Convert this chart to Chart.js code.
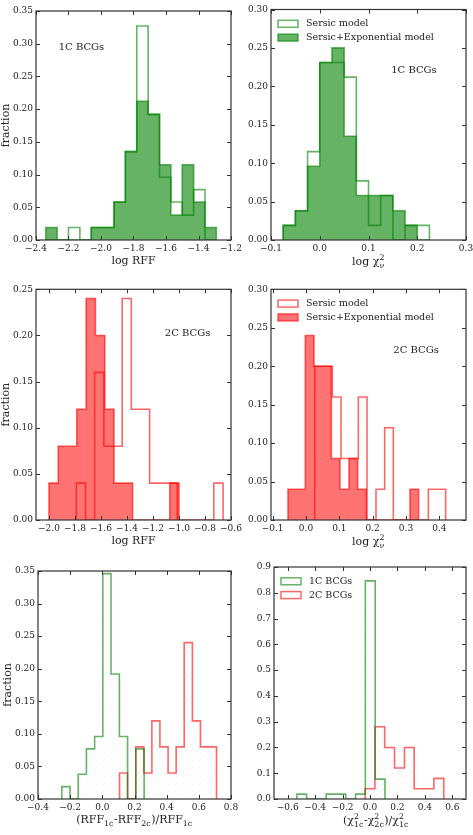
<!DOCTYPE html>
<html><head><meta charset="utf-8">
<script src="https://cdn.jsdelivr.net/npm/chart.js@4.4.1/dist/chart.umd.min.js"></script>
<style>
html,body{margin:0;padding:0;background:#fff;overflow:hidden;}
body{width:473px;height:835px;position:relative;}
canvas{position:absolute;}
</style></head><body>
<canvas id="c1"></canvas><canvas id="c2"></canvas>
<canvas id="c3"></canvas><canvas id="c4"></canvas>
<canvas id="c5"></canvas><canvas id="c6"></canvas>
<script>
// ---------- DATA ----------
// Panel 1: 1C BCGs, log RFF
const p1Edges = [-2.34,-2.27,-2.20,-2.13,-2.06,-1.99,-1.92,-1.85,-1.78,-1.71,-1.64,-1.57,-1.50,-1.43,-1.36,-1.29];
const p1SersicExp = [0.019,0,0,0,0.019,0.019,0.058,0.135,0.212,0.192,0.115,0.038,0.115,0.058,0.019];
const p1Sersic    = [0,0,0.019,0,0.019,0.019,0.058,0.135,0.327,0.192,0.096,0.058,0.038,0.077,0];
// Panel 2: 1C BCGs, log chi2
const p2Edges = [-0.075,-0.05,-0.025,0,0.025,0.05,0.075,0.1,0.125,0.15,0.175,0.2,0.225];
const p2SersicExp = [0.019,0.038,0.096,0.231,0.25,0.135,0.058,0.058,0.058,0.038,0.019,0];
const p2Sersic    = [0.019,0.038,0.115,0.231,0.231,0.212,0.077,0.019,0.058,0,0.019,0.019];
// Panel 3: 2C BCGs, log RFF
const p3EdgesSE = [-2.0,-1.929,-1.857,-1.786,-1.714,-1.643,-1.571,-1.5,-1.429,-1.357,-1.286,-1.214,-1.143,-1.071,-1.0];
const p3SersicExp = [0.04,0.08,0.08,0.12,0.24,0.2,0.12,0.04,0.04,0,0,0,0,0.04];
const p3EdgesS = [-1.79,-1.719,-1.649,-1.578,-1.508,-1.437,-1.367,-1.296,-1.226,-1.155,-1.085,-1.014,-0.944,-0.873,-0.802,-0.732,-0.661];
const p3Sersic = [0.04,0,0.16,0.08,0.08,0.24,0.12,0.12,0.04,0.04,0.04,0,0,0,0,0.04];
// Panel 4: 2C BCGs, log chi2
const p4EdgesSE = [-0.054,-0.028,-0.002,0.024,0.050,0.076,0.102,0.129,0.155,0.181,0.207,0.233,0.259,0.285,0.312,0.338];
const p4SersicExp = [0.04,0.04,0.24,0.2,0.2,0.08,0.04,0.08,0.04,0,0,0,0,0,0.04];
const p4EdgesS = [0.026,0.052,0.079,0.105,0.131,0.157,0.183,0.210,0.236,0.262,0.288,0.314,0.341,0.367,0.393,0.419];
const p4Sersic = [0.2,0.2,0.16,0.08,0.08,0.16,0,0.04,0.12,0,0,0,0,0.04,0.04];
// Panel 5: (RFF1c-RFF2c)/RFF1c
const p5Edges1C = [-0.252,-0.201,-0.150,-0.099,-0.048,0.003,0.054,0.106,0.157,0.208,0.260];
const p5Frac1C  = [0.019,0,0.038,0.077,0.096,0.346,0.192,0.096,0,0.077];
const p5Edges2C = [0.107,0.157,0.208,0.258,0.308,0.358,0.409,0.459,0.509,0.560,0.610,0.660,0.710];
const p5Frac2C  = [0.04,0,0.08,0.04,0.12,0.08,0.04,0.08,0.24,0.12,0.08,0.08];
// Panel 6: (chi2_1c-chi2_2c)/chi2_1c
const p6Edges1C = [-0.533,-0.462,-0.391,-0.319,-0.248,-0.177,-0.105,-0.034,0.038,0.109];
const p6Frac1C  = [0.019,0,0,0.019,0.019,0,0.019,0.846,0.077];
const p6Edges2C = [-0.036,0.036,0.107,0.179,0.251,0.322,0.394,0.466,0.538];
const p6Frac2C  = [0.04,0.28,0.2,0.12,0.2,0.04,0.04,0.08];
// Tick values
const p1XTicks = [-2.4,-2.2,-2.0,-1.8,-1.6,-1.4,-1.2];
const p1YTicks = [0,0.05,0.10,0.15,0.20,0.25,0.30,0.35];
const p2XTicks = [-0.1,0,0.1,0.2,0.3];
const p2YTicks = [0,0.05,0.10,0.15,0.20,0.25,0.30];
const p3XTicks = [-2.0,-1.8,-1.6,-1.4,-1.2,-1.0,-0.8,-0.6];
const p3YTicks = [0,0.05,0.10,0.15,0.20,0.25];
const p4XTicks = [-0.1,0,0.1,0.2,0.3,0.4];
const p4YTicks = [0,0.05,0.10,0.15,0.20,0.25,0.30];
const p5XTicks = [-0.4,-0.2,0,0.2,0.4,0.6,0.8];
const p5YTicks = [0,0.05,0.10,0.15,0.20,0.25,0.30,0.35];
const p6XTicks = [-0.6,-0.4,-0.2,0,0.2,0.4,0.6];
const p6YTicks = [0,0.1,0.2,0.3,0.4,0.5,0.6,0.7,0.8,0.9];

// ---------- STYLE ----------
const FONT = '"DejaVu Serif"';
Chart.defaults.font.family = FONT;
Chart.defaults.font.size = 9;
Chart.defaults.color = '#222';
const G_LINE = 'rgba(0,128,0,0.6)', G_FILL = 'rgba(0,128,0,0.6)';
const R_LINE = 'rgba(255,0,0,0.6)', R_FILL = 'rgba(255,0,0,0.55)';

function hatchPattern() {
  const c = document.createElement('canvas'); c.width = 6; c.height = 6;
  const g = c.getContext('2d');
  g.strokeStyle = 'rgba(140,140,140,0.12)'; g.lineWidth = 0.7;
  g.beginPath(); g.moveTo(0,6); g.lineTo(6,0); g.moveTo(-1,1); g.lineTo(1,-1); g.moveTo(5,7); g.lineTo(7,5); g.stroke();
  return g.createPattern(c, 'repeat');
}
const HATCH = hatchPattern();

function stepPoints(edges, fracs) {
  const pts = [{x: edges[0], y: 0}];
  fracs.forEach((f, i) => pts.push({x: edges[i], y: f}));
  pts.push({x: edges[edges.length - 1], y: 0});
  return pts;
}
function hist(edges, fracs, line, fill) {
  return {data: stepPoints(edges, fracs), stepped: 'before', borderColor: line, borderWidth: 1.6,
    backgroundColor: fill || 'transparent', fill: fill ? 'origin' : false, pointRadius: 0, tension: 0};
}
function fmt(v, d) { const s = Math.abs(v) < 1e-9 ? (0).toFixed(d) : v.toFixed(d); return s.replace('-', '\u2212'); }

function drawRich(ctx, segs, cx, baseY, size) {
  const small = size * 0.72;
  const fBig = size + 'px ' + FONT, fSmall = small + 'px ' + FONT;
  let total = 0;
  const widths = segs.map(s => {
    let w;
    if (s.t) { ctx.font = fBig; w = ctx.measureText(s.t).width; }
    else { ctx.font = fSmall; w = Math.max(s.sup ? ctx.measureText(s.sup).width : 0, s.sub ? ctx.measureText(s.sub).width : 0) + 0.5; }
    total += w; return w;
  });
  let x = cx - total / 2;
  ctx.fillStyle = '#222'; ctx.textAlign = 'left'; ctx.textBaseline = 'alphabetic';
  segs.forEach((s, i) => {
    if (s.t) { ctx.font = fBig; ctx.fillText(s.t, x, baseY); }
    else {
      ctx.font = fSmall;
      if (s.sup) ctx.fillText(s.sup, x, baseY - size * 0.42);
      if (s.sub) ctx.fillText(s.sub, x, baseY + size * 0.28);
    }
    x += widths[i];
  });
}

function decor(o) {
  return {
    id: 'decor',
    afterDatasetsDraw(chart) {
      const {ctx, chartArea: a} = chart;
      const xs = chart.scales.x, ys = chart.scales.y;
      ctx.save();
      ctx.strokeStyle = '#333'; ctx.lineWidth = 1;
      ctx.beginPath();
      xs.ticks.forEach(t => { const p = Math.round(xs.getPixelForValue(t.value)) + 0.5;
        ctx.moveTo(p, a.bottom); ctx.lineTo(p, a.bottom - 4); ctx.moveTo(p, a.top); ctx.lineTo(p, a.top + 4); });
      ys.ticks.forEach(t => { const p = Math.round(ys.getPixelForValue(t.value)) + 0.5;
        ctx.moveTo(a.left, p); ctx.lineTo(a.left + 4, p); ctx.moveTo(a.right, p); ctx.lineTo(a.right - 4, p); });
      ctx.stroke();
      ctx.lineWidth = 1.2;
      ctx.strokeRect(a.left, a.top, a.right - a.left, a.bottom - a.top);
      drawRich(ctx, o.xTitle, (a.left + a.right) / 2 + (o.titleDx || 0), a.bottom + o.titleDy, 11);
      if (o.note) {
        ctx.font = '10px ' + FONT; ctx.fillStyle = '#222'; ctx.textAlign = 'center'; ctx.textBaseline = 'middle';
        ctx.fillText(o.note.text, a.left + o.note.fx * (a.right - a.left), a.top + o.note.fy * (a.bottom - a.top));
      }
      if (o.legend) {
        o.legend.forEach((it, i) => {
          const cy = a.top + 14.3 + i * 13.8, sx = a.left + 7;
          if (it.fill) { ctx.fillStyle = it.fill; ctx.fillRect(sx, cy - 3.5, 20, 7); }
          ctx.strokeStyle = it.stroke; ctx.lineWidth = 1.5; ctx.strokeRect(sx, cy - 3.5, 20, 7);
          ctx.fillStyle = '#222'; ctx.font = '9.5px ' + FONT; ctx.textAlign = 'left'; ctx.textBaseline = 'middle';
          ctx.fillText(it.label, a.left + 35, cy);
        });
      }
      ctx.restore();
    }
  };
}

function panel(id, p) {
  const cv = document.getElementById(id);
  cv.width = p.c.w; cv.height = p.c.h;
  cv.style.left = p.c.l + 'px'; cv.style.top = p.c.t + 'px';
  cv.style.width = p.c.w + 'px'; cv.style.height = p.c.h + 'px';
  new Chart(cv, {
    type: 'line',
    data: {datasets: p.datasets},
    options: {
      responsive: false, animation: false, devicePixelRatio: 1,
      layout: {padding: {left: 0, top: p.a.t - p.c.t, right: p.c.l + p.c.w - p.a.r, bottom: 0}},
      plugins: {legend: {display: false}, tooltip: {enabled: false}},
      scales: {
        x: {type: 'linear', min: p.xMin, max: p.xMax,
          grid: {display: false, drawTicks: false}, border: {display: false},
          afterBuildTicks: s => { s.ticks = p.xTicks.map(v => ({value: v})); },
          afterFit: s => { s.height = p.c.t + p.c.h - p.a.b; },
          ticks: {padding: 3, maxRotation: 0, minRotation: 0, autoSkip: false, callback: v => fmt(v, p.xDec)}},
        y: {type: 'linear', min: 0, max: p.yMax,
          grid: {display: false, drawTicks: false}, border: {display: false},
          afterBuildTicks: s => { s.ticks = p.yTicks.map(v => ({value: v})); },
          afterFit: s => { s.width = p.a.l - p.c.l; },
          title: {display: !!p.yTitle, text: 'fraction', font: {size: 11, family: FONT}, color: '#222', padding: {top: p.yTitlePad || 0, bottom: 0}},
          ticks: {padding: 3, autoSkip: false, callback: v => fmt(v, p.yDec)}}
      }
    },
    plugins: [decor(p.decor)]
  });
}

const chiTitle = [{t: 'log \u03c7'}, {sup: '2', sub: '\u03bd'}];
const rffTitle = [{t: 'log RFF'}];

panel('c1', {c: {l: 0, t: 0, w: 250, h: 275}, a: {l: 36, t: 11, r: 231, b: 240},
  xMin: -2.4, xMax: -1.2, xTicks: p1XTicks, xDec: 1, yMax: 0.35, yTicks: p1YTicks, yDec: 2, yTitle: true,
  datasets: [hist(p1Edges, p1Sersic, G_LINE), hist(p1Edges, p1SersicExp, G_LINE, G_FILL)],
  decor: {xTitle: rffTitle, titleDy: 24, note: {text: '1C BCGs', fx: 0.233, fy: 0.157}}});

panel('c2', {c: {l: 236, t: 0, w: 250, h: 275}, a: {l: 271, t: 9.5, r: 466, b: 240},
  xMin: -0.1, xMax: 0.3, xTicks: p2XTicks, xDec: 1, yMax: 0.30, yTicks: p2YTicks, yDec: 2, yTitle: false,
  datasets: [hist(p2Edges, p2Sersic, G_LINE), hist(p2Edges, p2SersicExp, G_LINE, G_FILL)],
  decor: {xTitle: chiTitle, titleDy: 25, note: {text: '1C BCGs', fx: 0.733, fy: 0.264},
    legend: [{label: 'Sersic model', stroke: G_LINE}, {label: 'Sersic+Exponential model', stroke: G_LINE, fill: G_FILL}]}});

panel('c3', {c: {l: 0, t: 278, w: 250, h: 276}, a: {l: 36, t: 289.3, r: 231, b: 520},
  xMin: -2.1, xMax: -0.6, xTicks: p3XTicks, xDec: 1, yMax: 0.25, yTicks: p3YTicks, yDec: 2, yTitle: true,
  datasets: [hist(p3EdgesS, p3Sersic, R_LINE), hist(p3EdgesSE, p3SersicExp, R_LINE, R_FILL)],
  decor: {xTitle: rffTitle, titleDy: 24, note: {text: '2C BCGs', fx: 0.777, fy: 0.191}}});

panel('c4', {c: {l: 236, t: 278, w: 250, h: 276}, a: {l: 271, t: 289.3, r: 466, b: 520},
  xMin: -0.105, xMax: 0.48, xTicks: p4XTicks, xDec: 1, yMax: 0.30, yTicks: p4YTicks, yDec: 2, yTitle: false,
  datasets: [hist(p4EdgesS, p4Sersic, R_LINE), hist(p4EdgesSE, p4SersicExp, R_LINE, R_FILL)],
  decor: {xTitle: chiTitle, titleDy: 25, note: {text: '2C BCGs', fx: 0.744, fy: 0.264},
    legend: [{label: 'Sersic model', stroke: R_LINE}, {label: 'Sersic+Exponential model', stroke: R_LINE, fill: R_FILL}]}});

panel('c5', {c: {l: 0, t: 558, w: 250, h: 277}, a: {l: 38, t: 571, r: 231, b: 799},
  xMin: -0.4, xMax: 0.8, xTicks: p5XTicks, xDec: 1, yMax: 0.35, yTicks: p5YTicks, yDec: 2, yTitle: true, yTitlePad: 2,
  datasets: [hist(p5Edges1C, p5Frac1C, G_LINE, HATCH), hist(p5Edges2C, p5Frac2C, R_LINE, HATCH)],
  decor: {xTitle: [{t: '(RFF'}, {sub: '1c'}, {t: '-RFF'}, {sub: '2c'}, {t: ')/RFF'}, {sub: '1c'}], titleDy: 24}});

panel('c6', {c: {l: 236, t: 558, w: 250, h: 277}, a: {l: 274, t: 567, r: 466, b: 799},
  xMin: -0.7, xMax: 0.7, xTicks: p6XTicks, xDec: 1, yMax: 0.9, yTicks: p6YTicks, yDec: 1, yTitle: false,
  datasets: [hist(p6Edges1C, p6Frac1C, G_LINE, HATCH), hist(p6Edges2C, p6Frac2C, R_LINE, HATCH)],
  decor: {xTitle: [{t: '(\u03c7'}, {sup: '2', sub: '1c'}, {t: '-\u03c7'}, {sup: '2', sub: '2c'}, {t: ')/\u03c7'}, {sup: '2', sub: '1c'}], titleDy: 25, titleDx: 6,
    legend: [{label: '1C BCGs', stroke: G_LINE}, {label: '2C BCGs', stroke: R_LINE}]}});
</script>
</body></html>
